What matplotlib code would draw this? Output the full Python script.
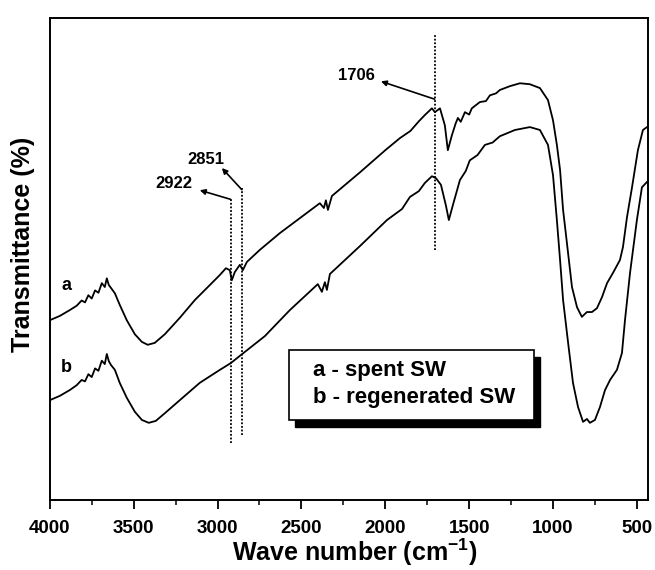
import matplotlib
matplotlib.use("Agg")
import matplotlib.pyplot as plt
from matplotlib.patches import Rectangle
from matplotlib.ticker import MultipleLocator

plt.rcParams['font.family'] = ['Liberation Sans', 'DejaVu Sans']
plt.rcParams['font.weight'] = 'bold'
plt.rcParams['mathtext.fontset'] = 'custom'
plt.rcParams['mathtext.rm'] = 'Liberation Sans:bold'
plt.rcParams['mathtext.default'] = 'regular'

# spectrum a - spent SW (wavenumber, transmittance in arbitrary %)
wn_a = [4000, 3940, 3881, 3840, 3810, 3790, 3770, 3750, 3730, 3710, 3690, 3672,
        3660, 3648, 3635, 3612, 3583, 3541, 3493, 3451, 3416, 3374, 3314, 3225,
        3135, 3046, 2986, 2950, 2927, 2915, 2897, 2867, 2849, 2825, 2748, 2628,
        2509, 2390, 2366, 2354, 2342, 2318, 2151, 2000, 1913, 1850, 1800, 1764,
        1722, 1704, 1674, 1645, 1627, 1603, 1580, 1567, 1550, 1525, 1500, 1484,
        1436, 1400, 1376, 1340, 1317, 1257, 1197, 1138, 1078, 1030, 1000, 977,
        958, 940, 917, 887, 857, 828, 798, 768, 738, 708, 678, 643, 601, 583,
        559, 529, 494, 464, 440]
t_a = [37.3, 38.2, 39.4, 40.3, 41.4, 41.0, 42.5, 41.8, 43.5, 43.0, 45.0, 44.2,
       46.0, 44.6, 44.0, 42.9, 40.5, 37.3, 34.4, 32.8, 32.2, 32.6, 34.4, 37.8,
       41.5, 44.6, 46.7, 48.1, 47.7, 45.6, 47.3, 48.8, 47.7, 49.4, 51.9, 55.4,
       58.5, 61.6, 60.6, 62.2, 60.2, 63.1, 68.0, 72.6, 75.1, 76.6, 78.6, 79.9,
       81.3, 80.5, 81.3, 77.8, 72.6, 75.7, 78.2, 79.3, 78.5, 80.5, 80.0, 81.3,
       82.6, 82.8, 84.0, 84.4, 85.1, 85.9, 86.5, 86.3, 85.5, 83.0, 78.8, 73.7,
       68.5, 60.2, 53.3, 44.2, 40.0, 38.0, 39.0, 39.0, 39.8, 42.1, 45.0, 47.1,
       49.8, 52.5, 58.7, 64.9, 72.6, 76.8, 77.4]

# spectrum b - regenerated SW
wn_b = [4000, 3940, 3881, 3840, 3810, 3790, 3770, 3750, 3730, 3710, 3690, 3672,
        3660, 3648, 3635, 3612, 3583, 3541, 3493, 3451, 3410, 3368, 3314, 3225,
        3106, 2986, 2921, 2867, 2718, 2569, 2402, 2378, 2360, 2348, 2330, 2151,
        1990, 1900, 1853, 1800, 1764, 1722, 1698, 1668, 1639, 1621, 1597, 1555,
        1520, 1496, 1450, 1406, 1360, 1317, 1227, 1138, 1078, 1030, 1000, 977,
        958, 940, 910, 881, 851, 821, 798, 780, 750, 720, 690, 660, 619, 589,
        571, 541, 500, 470, 440]
t_b = [20.7, 21.6, 22.8, 23.8, 24.9, 24.6, 26.1, 25.5, 27.3, 26.8, 28.9, 28.2,
       30.3, 28.8, 28.0, 27.0, 24.3, 21.2, 18.3, 16.6, 16.0, 16.4, 18.0, 20.7,
       24.3, 27.0, 28.4, 29.9, 34.0, 39.4, 44.8, 43.2, 45.2, 43.6, 46.9, 52.7,
       58.1, 60.4, 62.9, 64.1, 65.8, 67.2, 66.8, 65.4, 61.2, 58.1, 61.2, 66.4,
       68.3, 70.5, 71.6, 73.7, 74.2, 75.5, 76.8, 77.4, 76.8, 73.7, 67.4, 58.1,
       49.8, 41.5, 32.6, 24.3, 19.3, 16.2, 16.8, 16.0, 16.6, 19.3, 22.8, 24.9,
       27.0, 30.5, 37.3, 47.1, 58.1, 64.9, 66.0]

# marked bands: label, line x, line bottom, line top
bands = ["2922", "2851", "1706"]
band_x = [2922, 2855, 1706]
band_lo = [11.8, 13.5, 51.9]
band_hi = [62.7, 64.7, 96.5]
label_pos = [(3261, 65.6), (3070, 70.7), (2169, 88.2)]
arrow_tail = [(2922, 62.4), (2855, 64.4), (1706, 83.2)]
arrow_head = [(3106, 64.3), (2974, 68.9), (2026, 86.9)]

fig = plt.figure(figsize=(6.55, 5.7), dpi=100)
ax = fig.add_axes([0.076, 0.123, 0.913, 0.845])

ax.plot(wn_a, t_a, color='black', lw=1.3)
ax.plot(wn_b, t_b, color='black', lw=1.3)

for name, x, lo, hi, lp, at, ah in zip(bands, band_x, band_lo, band_hi,
                                       label_pos, arrow_tail, arrow_head):
    ax.plot([x, x], [lo, hi], color='black', lw=1.3, ls=(0, (1, 1)))
    ax.annotate('', xy=ah, xytext=at,
                arrowprops=dict(arrowstyle='-|>', color='black', lw=1.2,
                                mutation_scale=8, shrinkA=0, shrinkB=0))
    ax.text(lp[0], lp[1], name, fontsize=12, fontweight='bold',
            ha='center', va='center')

ax.text(3899, 44.6, 'a', fontsize=13, fontweight='bold', ha='center', va='center')
ax.text(3899, 27.4, 'b', fontsize=13, fontweight='bold', ha='center', va='center')

# legend box with drop shadow
ax.add_patch(Rectangle((0.410, 0.152), 0.409, 0.145, transform=ax.transAxes,
                       facecolor='black', edgecolor='black', zorder=4))
ax.add_patch(Rectangle((0.400, 0.166), 0.409, 0.145, transform=ax.transAxes,
                       facecolor='white', edgecolor='black', lw=1.2, zorder=5))
ax.text(0.440, 0.268, 'a - spent SW', transform=ax.transAxes, fontsize=16,
        fontweight='bold', va='center', zorder=6)
ax.text(0.440, 0.212, 'b - regenerated SW', transform=ax.transAxes, fontsize=16,
        fontweight='bold', va='center', zorder=6)

ax.set_xlim(4000, 435)
ax.set_ylim(0, 100)
ax.xaxis.set_major_locator(MultipleLocator(500))
ax.xaxis.set_minor_locator(MultipleLocator(250))
ax.tick_params(axis='x', which='major', direction='out', length=6.5, width=1.3,
               labelsize=13.5, pad=8)
ax.tick_params(axis='x', which='minor', direction='out', length=3.5, width=1.1)
ax.set_yticks([])
for lbl in ax.get_xticklabels():
    lbl.set_fontweight('bold')
for sp in ax.spines.values():
    sp.set_linewidth(1.4)

ax.set_xlabel(r'Wave number (cm$^{-1}$)', fontsize=18, fontweight='bold')
ax.set_ylabel('Transmittance (%)', fontsize=18, fontweight='bold')
ax.xaxis.set_label_coords(0.51, -0.076)
ax.yaxis.set_label_coords(-0.025, 0.53)

fig.savefig('out.png', dpi=100, facecolor='white')
